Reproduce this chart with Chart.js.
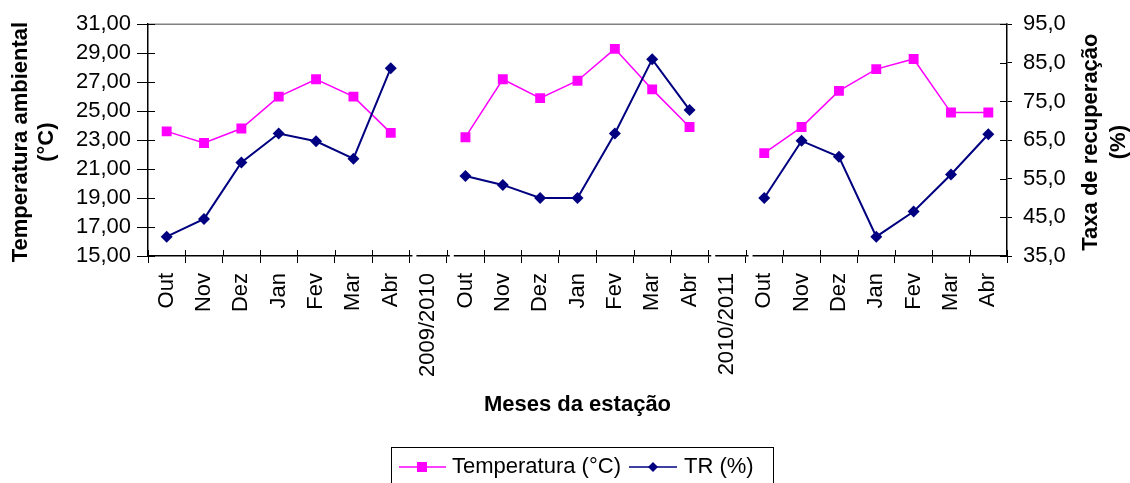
<!DOCTYPE html>
<html>
<head>
<meta charset="utf-8">
<script src="https://cdn.jsdelivr.net/npm/chart.js@4.4.0/dist/chart.umd.min.js"></script>
<style>
  html, body { margin: 0; padding: 0; background: #fff; }
  #chart { display: block; }
</style>
</head>
<body>
<canvas id="chart" width="1130" height="483"></canvas>
<script>
const months = ['Out', 'Nov', 'Dez', 'Jan', 'Fev', 'Mar', 'Abr'];
const categories = [...months, '2009/2010', ...months, '2010/2011', ...months];

// null = coluna do separador de safra (sem valor)
const temperatura = [23.6, 22.8, 23.8, 26.0, 27.2, 26.0, 23.5, null,
                     23.2, 27.2, 25.9, 27.1, 29.3, 26.5, 23.9, null,
                     22.1, 23.9, 26.4, 27.9, 28.6, 24.9, 24.9];
const taxaRecuperacao = [40.0, 44.6, 59.2, 66.7, 64.7, 60.2, 83.6, null,
                         55.7, 53.4, 50.0, 50.0, 66.7, 85.9, 72.8, null,
                         50.0, 64.8, 60.7, 40.0, 46.5, 56.1, 66.5];

const tempTicks = { min: 15, max: 31, step: 2 };
const trTicks = { min: 35, max: 95, step: 10 };

const FONT = 'Arial, "Liberation Sans", sans-serif';
const MAGENTA = '#ff00ff';
const NAVY = '#000080';

// titulos dos eixos, ticks cruzados, quebras no eixo x e legenda
const extras = {
    id: 'extras',
    afterDraw(chart) {
        const ctx = chart.ctx;
        const a = chart.chartArea;
        const yl = chart.scales.y;
        const yr = chart.scales.y1;
        ctx.save();

        // borda superior cinza
        ctx.strokeStyle = '#808080';
        ctx.lineWidth = 1.5;
        ctx.beginPath();
        ctx.moveTo(a.left, a.top);
        ctx.lineTo(a.right, a.top);
        ctx.stroke();

        // metade interna dos ticks
        ctx.strokeStyle = '#000';
        ctx.lineWidth = 1;
        ctx.beginPath();
        yl.ticks.forEach((t, i) => {
            const p = Math.round(yl.getPixelForTick(i)) + 0.5;
            ctx.moveTo(a.left, p); ctx.lineTo(a.left + 7, p);
        });
        yr.ticks.forEach((t, i) => {
            const p = Math.round(yr.getPixelForTick(i)) + 0.5;
            ctx.moveTo(a.right - 7, p); ctx.lineTo(a.right, p);
        });
        const w = (a.right - a.left) / categories.length;
        for (let i = 0; i <= categories.length; i++) {
            const p = Math.round(a.left + w * i) + 0.5;
            ctx.moveTo(p, a.bottom - 6); ctx.lineTo(p, a.bottom);
        }
        ctx.stroke();

        // pequenas quebras na linha do eixo x
        ctx.fillStyle = '#fff';
        [7, 8, 15, 16].forEach(i => {
            const p = a.left + w * i;
            ctx.fillRect(p + 3, a.bottom - 2, 4, 4);
        });

        // titulos
        ctx.fillStyle = '#000';
        ctx.font = 'bold 22px ' + FONT;
        ctx.textAlign = 'center';
        ctx.textBaseline = 'middle';
        const midY = (a.top + a.bottom) / 2 + 2;

        const vText = (txt, x) => {
            ctx.save();
            ctx.translate(x, midY);
            ctx.rotate(-Math.PI / 2);
            ctx.fillText(txt, 0, 0);
            ctx.restore();
        };
        vText('Temperatura ambiental', 21);
        vText('(°C)', 47);
        vText('Taxa de recuperação', 1091);
        vText('(%)', 1119);

        ctx.fillText('Meses da estação', (a.left + a.right) / 2, 405);

        // legenda
        ctx.strokeStyle = '#000';
        ctx.lineWidth = 1;
        ctx.strokeRect(391.5, 447.5, 382, 40);
        const ly = 467;
        ctx.lineWidth = 1.5;
        ctx.strokeStyle = MAGENTA;
        ctx.beginPath(); ctx.moveTo(399, ly); ctx.lineTo(446, ly); ctx.stroke();
        ctx.fillStyle = MAGENTA;
        ctx.fillRect(417, ly - 5, 10, 10);
        ctx.strokeStyle = NAVY;
        ctx.beginPath(); ctx.moveTo(629, ly); ctx.lineTo(677, ly); ctx.stroke();
        ctx.fillStyle = NAVY;
        ctx.beginPath();
        ctx.moveTo(653, ly - 5); ctx.lineTo(658, ly); ctx.lineTo(653, ly + 5); ctx.lineTo(648, ly);
        ctx.closePath(); ctx.fill();
        ctx.fillStyle = '#000';
        ctx.font = '22px ' + FONT;
        ctx.textAlign = 'left';
        ctx.fillText('Temperatura (°C)', 452, ly);
        ctx.fillText('TR (%)', 684, ly);

        ctx.restore();
    }
};

const tickFont = { family: FONT, size: 22 };

new Chart(document.getElementById('chart'), {
    type: 'line',
    data: {
        labels: categories,
        datasets: [{
            label: 'Temperatura (°C)',
            data: temperatura,
            yAxisID: 'y',
            borderColor: MAGENTA,
            backgroundColor: MAGENTA,
            borderWidth: 1.5,
            pointStyle: 'rect',
            pointRadius: 7,
            pointBorderWidth: 0,
            spanGaps: false,
            order: 1
        }, {
            label: 'TR (%)',
            data: taxaRecuperacao,
            yAxisID: 'y1',
            borderColor: NAVY,
            backgroundColor: NAVY,
            borderWidth: 2,
            pointStyle: 'rectRot',
            pointRadius: 6,
            pointBorderWidth: 0,
            spanGaps: false,
            order: 0
        }]
    },
    options: {
        responsive: false,
        animation: false,
        layout: { padding: { top: 24, left: 0, right: 0, bottom: 0 } },
        plugins: { legend: { display: false }, tooltip: { enabled: false } },
        scales: {
            x: {
                offset: true,
                grid: { offset: true, drawOnChartArea: false, color: '#000', tickLength: 7 },
                border: { color: '#000', width: 1.5 },
                ticks: { font: tickFont, color: '#000', minRotation: 90, maxRotation: 90, autoSkip: false, padding: 10 },
                afterFit: s => { s.height = 227; }
            },
            y: {
                position: 'left',
                min: tempTicks.min, max: tempTicks.max,
                grid: { drawOnChartArea: false, color: '#000', tickLength: 11 },
                border: { color: '#000', width: 1.5 },
                ticks: {
                    stepSize: tempTicks.step, autoSkip: false, font: tickFont, color: '#000', padding: 6,
                    callback: v => v.toFixed(2).replace('.', ',')
                },
                afterFit: s => { s.width = 148; }
            },
            y1: {
                position: 'right',
                min: trTicks.min, max: trTicks.max,
                grid: { drawOnChartArea: false, color: '#000', tickLength: 5 },
                border: { color: '#000', width: 1.5 },
                ticks: {
                    stepSize: trTicks.step, autoSkip: false, font: tickFont, color: '#000', padding: 11,
                    callback: v => v.toFixed(1).replace('.', ',')
                },
                afterFit: s => { s.width = 123; }
            }
        }
    },
    plugins: [extras]
});
</script>
</body>
</html>
